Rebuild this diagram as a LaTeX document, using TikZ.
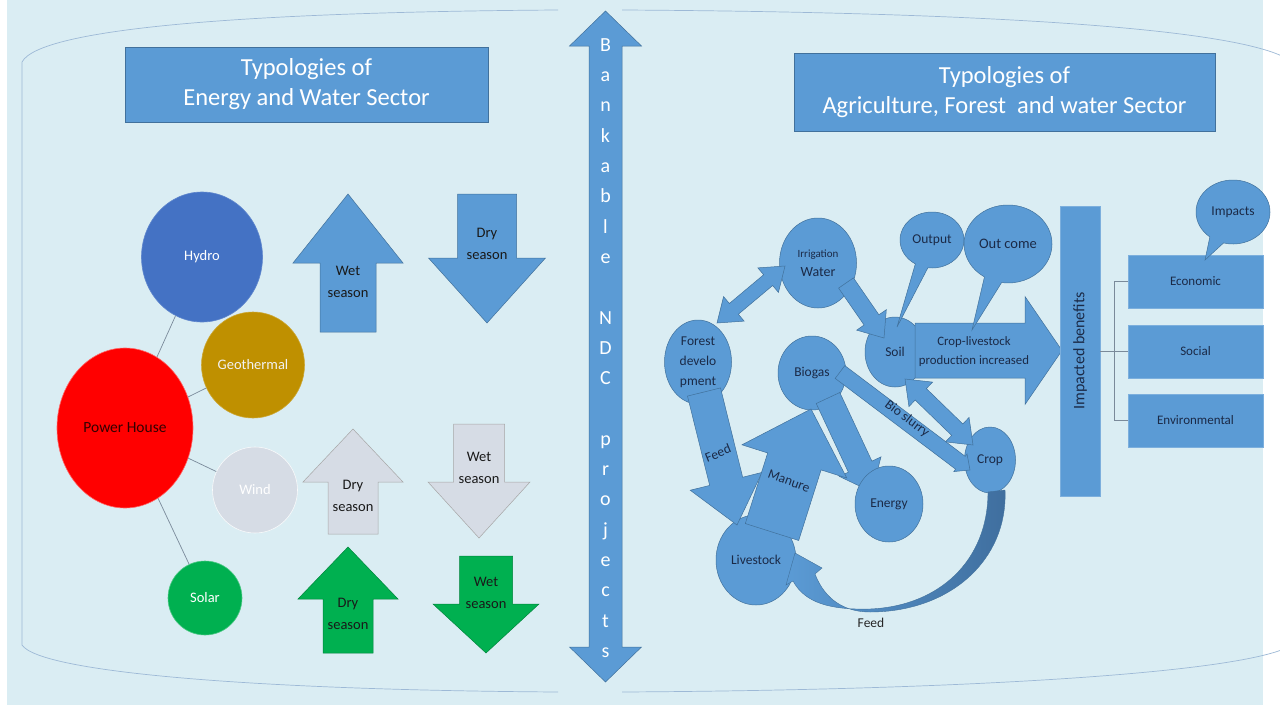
\documentclass[tikz,border=0pt]{standalone}
\usepackage{fontspec}
\setmainfont{Carlito}
\usetikzlibrary{calc,shapes.geometric,shapes.callouts}

\definecolor{bgblue}{HTML}{DAEDF3}
\definecolor{accent}{HTML}{5B9BD5}
\definecolor{accentdk}{HTML}{41719C}
\definecolor{panelline}{HTML}{9DB9D6}
\definecolor{hydroblue}{HTML}{4472C4}
\definecolor{geogold}{HTML}{BF9000}
\definecolor{windgrey}{HTML}{D6DCE5}
\definecolor{solargreen}{HTML}{00B050}
\definecolor{navytext}{HTML}{1B2A47}
\definecolor{linkgrey}{HTML}{7A8A9A}
\definecolor{curvedark}{HTML}{3F6E9E}

% block arrow: [style]{tail}{tip}{shaft half width}{head half width}{head length}
\newcommand{\blockarrow}[6][]{%
  \path (#3) coordinate (ba-tip) (#2) coordinate (ba-tail)
        ($(ba-tip)!#6!(ba-tail)$) coordinate (ba-neck);
  \draw[#1] ($(ba-tail)!#4!90:(ba-tip)$) -- ($(ba-neck)!#4!90:(ba-tip)$)
     -- ($(ba-neck)!#5!90:(ba-tip)$) -- (ba-tip) -- ($(ba-neck)!#5!-90:(ba-tip)$)
     -- ($(ba-neck)!#4!-90:(ba-tip)$) -- ($(ba-tail)!#4!-90:(ba-tip)$) -- cycle;}

% double block arrow: [style]{end a}{end b}{shaft half width}{head half width}{head length}
\newcommand{\dblockarrow}[6][]{%
  \path (#2) coordinate (da-a) (#3) coordinate (da-b)
        ($(da-b)!#6!(da-a)$) coordinate (da-nb) ($(da-a)!#6!(da-b)$) coordinate (da-na);
  \draw[#1] ($(da-na)!#4!90:(da-b)$) -- ($(da-nb)!#4!90:(da-b)$)
     -- ($(da-nb)!#5!90:(da-b)$) -- (da-b) -- ($(da-nb)!#5!-90:(da-b)$)
     -- ($(da-nb)!#4!-90:(da-b)$) -- ($(da-na)!#4!-90:(da-b)$)
     -- ($(da-na)!#5!-90:(da-b)$) -- (da-a) -- ($(da-na)!#5!90:(da-b)$) -- cycle;}

\begin{document}
\begin{tikzpicture}[x=1pt,y=-1pt,
  every node/.style={inner sep=0pt},
  panel/.style={draw=panelline, line width=0.7pt},
  titlebox/.style={rectangle, fill=accent, draw=accentdk, line width=0.6pt, text=white,
    align=center, font=\fontsize{24.5}{30}\selectfont},
  disc/.style={ellipse, line width=0.6pt, font=\fontsize{14.5}{16}\selectfont},
  bub/.style={ellipse, fill=accent, draw=accentdk, line width=0.5pt, text=navytext,
    align=center, font=\fontsize{13.5}{20}\selectfont},
  talk/.style={ellipse callout, fill=accent, draw=accentdk, line width=0.5pt, text=navytext,
    callout pointer arc=24, font=\fontsize{13.5}{16}\selectfont},
  sidebox/.style={rectangle, fill=accent, draw=accent!80!white, line width=0.6pt,
    text=navytext, minimum width=135pt, minimum height=53pt, font=\fontsize{13}{16}\selectfont},
  link/.style={draw=linkgrey, line width=0.7pt},
  bluearr/.style={fill=accent, draw=accentdk, line width=0.5pt, line join=miter},
  greyarr/.style={fill=windgrey, draw=black!35, line width=0.5pt, line join=miter},
  greenarr/.style={fill=solargreen, draw=solargreen!75!black, line width=0.5pt, line join=miter},
  arrtext/.style={align=center, text=black!90, font=\fontsize{14.5}{22}\selectfont},
  lbl/.style={text=navytext, font=\fontsize{13.5}{16}\selectfont}]

\useasboundingbox (0,0) rectangle (1280,707);
\clip (0,0) rectangle (1280,707);

% page and panel outlines
\fill[white] (0,0) rectangle (1280,707);
\fill[bgblue] (7,0) rectangle (1263,705);
\draw[panel] (558,10) .. controls (250,12) and (40,28) .. (22,62) -- (22,645)
   .. controls (40,672) and (250,690) .. (558,692);
\draw[panel] (622,10) .. controls (980,12) and (1250,28) .. (1292,62) -- (1292,645)
   .. controls (1250,672) and (980,690) .. (622,692);

% central double arrow
\coordinate (ndc-top) at (605.5,11);
\coordinate (ndc-bot) at (605.5,682);
\dblockarrow[bluearr]{ndc-bot}{ndc-top}{16.5pt}{36pt}{35pt}
\node[text=white, align=center, font=\fontsize{20}{30.3}\selectfont] (ndc) at (605.5,348)
  {B\\a\\n\\k\\a\\b\\l\\e\\\strut\\N\\D\\C\\\strut\\p\\r\\o\\j\\e\\c\\t\\s};

% ---------- energy and water sector ----------
\node[titlebox, minimum width=363pt, minimum height=75pt] (ltitle) at (306.5,84.5)
  {Typologies of\\Energy and Water Sector};

\node[disc, fill=hydroblue, draw=hydroblue!85!white, text=white,
  minimum width=121pt, minimum height=130pt] (hydro) at (202,257) {Hydro};
\node[disc, fill=geogold, draw=geogold!80!white, text=white!95!black,
  minimum width=103pt, minimum height=106pt] (geo) at (253,365) {Geothermal};
\node[disc, fill=red, draw=red!60!white, text=black!80!red,
  minimum width=136pt, minimum height=160pt, font=\fontsize{15.5}{17}\selectfont] (ph) at (125,428) {Power House};
\node[disc, fill=windgrey, draw=white!85!windgrey, text=white,
  minimum width=85pt, minimum height=86pt] (wind) at (255,490) {Wind};
\node[disc, fill=solargreen, draw=solargreen!70!white, text=white,
  minimum width=74pt, minimum height=74pt] (solar) at (205,598) {Solar};
\draw[link] (ph) -- (hydro);
\draw[link] (ph) -- (geo);
\draw[link] (ph) -- (wind);
\draw[link] (ph) -- (solar);

\coordinate (wu-tail) at (348,332);  \coordinate (wu-tip) at (348,194);
\blockarrow[bluearr]{wu-tail}{wu-tip}{28pt}{55pt}{69pt}
\node[arrtext] (wu-lbl) at (348,282) {Wet\\season};

\coordinate (dd-tail) at (487,194);  \coordinate (dd-tip) at (487,323);
\blockarrow[bluearr]{dd-tail}{dd-tip}{29.5pt}{58.5pt}{65pt}
\node[arrtext] (dd-lbl) at (487,244) {Dry\\season};

\coordinate (gu-tail) at (353,534);  \coordinate (gu-tip) at (353,429);
\blockarrow[greyarr]{gu-tail}{gu-tip}{25pt}{50pt}{53pt}
\node[arrtext] (gu-lbl) at (353,496) {Dry\\season};

\coordinate (gd-tail) at (479,424);  \coordinate (gd-tip) at (479,538);
\blockarrow[greyarr]{gd-tail}{gd-tip}{25.5pt}{51pt}{56pt}
\node[arrtext] (gd-lbl) at (479,468) {Wet\\season};

\coordinate (su-tail) at (348,653);  \coordinate (su-tip) at (348,547);
\blockarrow[greenarr]{su-tail}{su-tip}{25pt}{50pt}{52pt}
\node[arrtext] (su-lbl) at (348,614) {Dry\\season};

\coordinate (sd-tail) at (486,556);  \coordinate (sd-tip) at (486,653);
\blockarrow[greenarr]{sd-tail}{sd-tip}{26.5pt}{53pt}{49pt}
\node[arrtext] (sd-lbl) at (486,593) {Wet\\season};

% ---------- agriculture, forest and water sector ----------
\node[titlebox, minimum width=421pt, minimum height=78pt] (rtitle) at (1004.5,92)
  {Typologies of\\Agriculture, Forest \ and water Sector};

\node[bub, minimum width=77pt, minimum height=90pt, font=\fontsize{14}{19}\selectfont] (irr) at (818,263)
  {{\fontsize{11}{12}\selectfont Irrigation}\\Water};
\node[bub, minimum width=67pt, minimum height=84pt] (forest) at (698,362) {Forest\\develo\\pment};
\node[bub, minimum width=68pt, minimum height=74pt] (biogas) at (812,373) {Biogas};
\node[bub, minimum width=51pt, minimum height=66pt] (crop) at (990,460) {Crop};
\node[bub, minimum width=60pt, minimum height=70pt] (soil) at (895,352) {Soil};
\node[bub, minimum width=80pt, minimum height=90pt] (livestock) at (756,560) {Livestock};

% flows between the nodes
\coordinate (fi-a) at (717,323);  \coordinate (fi-b) at (785,266);
\dblockarrow[bluearr]{fi-a}{fi-b}{7pt}{16pt}{22pt}
\coordinate (is-tail) at (846,283);  \coordinate (is-tip) at (884,338);
\blockarrow[bluearr]{is-tail}{is-tip}{9pt}{18pt}{22pt}
\coordinate (sc-a) at (905,379);  \coordinate (sc-b) at (973,445);
\dblockarrow[bluearr]{sc-a}{sc-b}{8pt}{17pt}{22pt}
\coordinate (bs-tail) at (840,372);  \coordinate (bs-tip) at (970,470);
\blockarrow[bluearr]{bs-tail}{bs-tip}{8pt}{11pt}{12pt}
\coordinate (be-tail) at (828,398);  \coordinate (be-tip) at (872,492);
\blockarrow[bluearr]{be-tail}{be-tip}{13pt}{23pt}{28pt}
\node[bub, minimum width=68pt, minimum height=76pt] (energy) at (889,504) {Energy};
\coordinate (fl-tail) at (704,392);  \coordinate (fl-tip) at (737,525);
\blockarrow[bluearr]{fl-tail}{fl-tip}{17pt}{37pt}{45pt}
\coordinate (mb-tail) at (772,532);  \coordinate (mb-tip) at (811,409);
\blockarrow[bluearr]{mb-tail}{mb-tip}{28pt}{55pt}{55pt}
\node[lbl, rotate=22] (feed-lbl) at (718,453) {Feed};
\node[lbl, rotate=-20] (manure-lbl) at (789,481) {Manure};
\node[lbl, rotate=-37] (slurry-lbl) at (907,419) {Bio slurry};

% curved feed return from crop to livestock
\path[left color=accent, right color=curvedark, draw=accentdk, line width=0.4pt]
  (1005,490) .. controls (1008,560) and (950,612) .. (870,612)
  .. controls (845,612) and (825,600) .. (815,574) -- (822,568) -- (795,553) -- (786,585) -- (793,581)
  .. controls (805,603) and (830,610) .. (870,609)
  .. controls (940,606) and (988,560) .. (988,492) -- cycle;
\node[lbl, text=black!85] (feed-ret) at (871,623) {Feed};

% production arrow and its callouts
\coordinate (prod-tail) at (915,350.5);  \coordinate (prod-tip) at (1062,350.5);
\blockarrow[bluearr]{prod-tail}{prod-tip}{27.5pt}{54pt}{37pt}
\node[align=center, text=navytext, font=\fontsize{12.8}{19}\selectfont] (prod) at (974,352)
  {Crop-livestock\\production increased};
\node[talk, callout absolute pointer={(897,327)}, minimum width=64pt, minimum height=56pt] (output) at (932,240) {Output};
\node[talk, callout absolute pointer={(972,330)}, minimum width=88pt, minimum height=78pt,
  font=\fontsize{14.5}{16}\selectfont] (outcome) at (1008,244) {Out come};

% impacted benefits
\node[rectangle, fill=accent, draw=accent!80!white, line width=0.6pt, minimum width=290pt, minimum height=40pt,
  text=navytext, rotate=90, font=\fontsize{16}{18}\selectfont] (impact) at (1080,351) {Impacted benefits};
\node[sidebox] (econ) at (1195.5,281.5) {Economic};
\node[sidebox] (social) at (1195.5,351.5) {Social};
\node[sidebox] (env) at (1195.5,420.5) {Environmental};
\coordinate (hub) at (1114,351.5);
\draw[link] (impact.south |- hub) -- (hub);
\draw[link] (hub) |- (econ.west);
\draw[link] (hub) |- (social.west);
\draw[link] (hub) |- (env.west);
\node[talk, callout absolute pointer={(1205,260)}, minimum width=74pt, minimum height=64pt] (impacts) at (1233,212) {Impacts};

\end{tikzpicture}
\end{document}
